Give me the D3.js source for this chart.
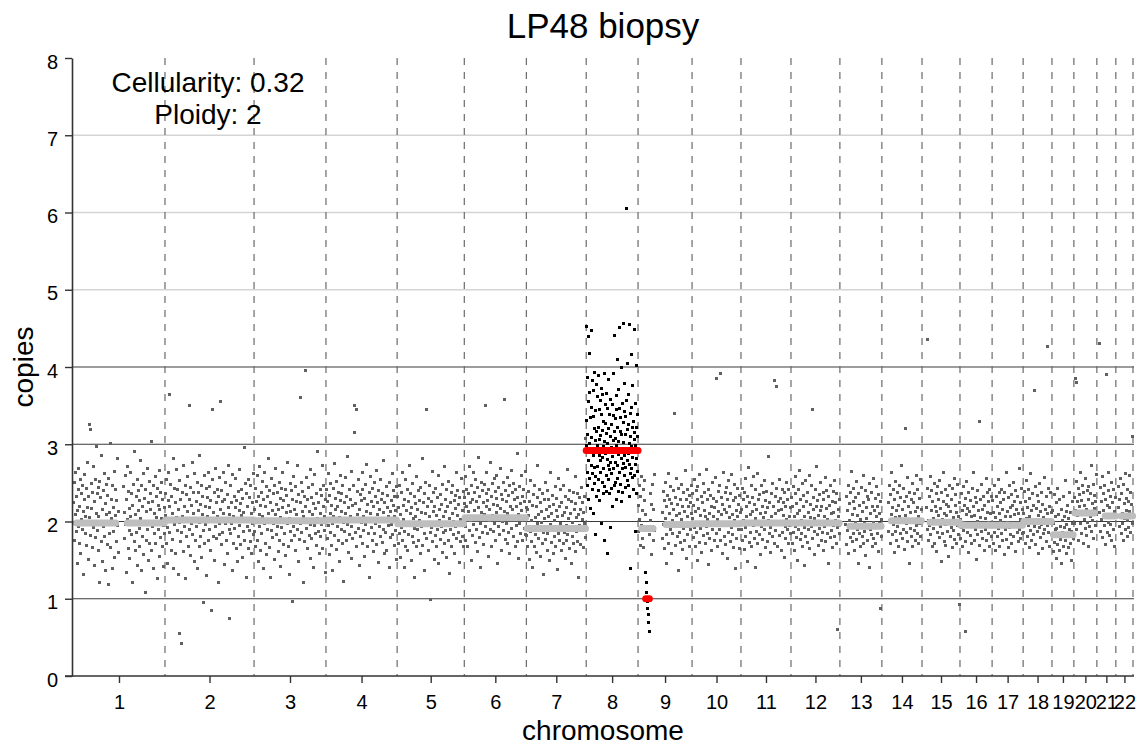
<!DOCTYPE html>
<html><head><meta charset="utf-8">
<script src="https://cdn.jsdelivr.net/npm/d3@7"></script>
<style>
body{margin:0;background:#fff}
text{font-family:"Liberation Sans",Arial,Helvetica,sans-serif;fill:#000}
</style>
</head><body>
<svg id="chart" width="1142" height="747"></svg>
<script>
// ---------------- data ----------------
const chartTitle = "LP48 biopsy";
const cellularity = 0.32;
const ploidy = 2;
const chromosomes = ["1","2","3","4","5","6","7","8","9","10","11","12","13","14","15","16","17","18","19","20","21","22"];
// chromosome extents (Mb)
const chromLengthsMb = [252,244,197,195,184,170,164,142,148,134,137,134,115,110,104,88,85,79,60,63,52,47];
const yTicks = [0,1,2,3,4,5,6,7,8];
const darkRefLines = [1,2,3,4];
const lightRefLines = [5,6,7];

// copy number x100 of evenly spaced bins along each chromosome; "-n" = n bins without data
const binCopies = [
`224 198 251 176 209 263 187 232 145 214 241 193 268 171 220 254 158 236 202 189
247 213 132 228 261 184 207 243 169 218 276 196 151 233 325 205 319 182 249 217
166 238 192 271 143 226 255 179 211 297 188 236 162 244 207 121 252 199 231 174
286 215 148 240 193 262 181 223 137 209 248 170 234 197 119 256 185 212 301 166
229 204 246 139 218 187 265 153 241 208 174 227 195 282 160 213 -10
245 178 212 259 196 134 228 203 271 165 239 188 217 152 264 207 183 236 121 221
198 248 174 290 209 162 233 186 255 143 214 240 191 227 168 279 204 137 246 181
219 262 157 230 197 108 241 176 213 268 189 224 149 252 200 171 236 215 303 163
226 193 247 139 210 184 258 172 232 205 126 243 190 221 266 155 215 238 179 204
251 167 229 195 142 218 185`,
`208 236 171 254 192 145 227 263 186 219 365 201 248 163 232 177 210 281 139 243
196 225 158 267 205 188 241 132 216 199 55 253 174 229 186 42 238 206 161 272
194 219 247 126 235 180 213 258 167 203 229 190 350 244 156 221 197 276 183 210
238 148 262 201 175 226 193 251 139 214 237 168 285 199 222 181 246 154 209 233
95 188 259 171 220 196 243 130 231 207 175 264 190 218 245 162 227 85 201 254
345 180 212 237 149 269 193 224 178 206 241 121 232 197 183 257 355 215 170 240
226 186 211 263 144 229 198 251 176 202 235 159 218 273 190 209 75 246 184 225
198 137 261 206 172 233 191 218 256 165 227 202 148 239 181 214 267 195 223 170
242 208 153 230 187 212 296 176 249 201 128 236 194 219 165 255 203
188 231 174 246 210 159 224 197 262 183`,
`215 187 243 168 226 201 259 176 232 148 209 271 194 221 163 237 185 252 206 139
228 197 264 172 219 245 157 233 190 211 282 166 240 203 127 225 188 256 214 179
236 198 151 247 209 268 183 222 194 237 161 215 250 176 230 205 142 243 192 218
263 170 227 199 185 241 156 212 234 197 276 168 221 204 131 249 187 213 240 175
229 96 258 193 216 182 245 163 226 209 190 272 148 235 201 177 224 360 198 251
186 213 239 121 207 232 174 395 220 191 257 165 228 203 244 182 213 152 267 196
231 178 209 248 140 223 195 261 184 217 236 169 204 290 187
225 199 158 242 211 180 234 196 273 165 220 247 188 206 134 229`,
`203 241 178 226 195 262 157 234 211 186 249 169 221 198 137 243 207 275 182 215
230 164 252 193 219 176 238 205 148 227 260 189 213 236 171 246 199 122 224 187
257 210 175 233 196 284 160 218 242 183 206 229 152 265 194 221 178 247 201 315
350 186 223 345 168 239 209 191 254 143 216 235 180 227 199 263 172 241 188 207
230 155 248 196 213 274 167 222 204 185 237 128 211 258 192 226 176 243 200 161
219 251 184 232 198 170 266 209 225 147 240 193 216 181 255 204 229 173 236 190
212 279 158 224 201 186 245 163 218 234 195 207 140 250 213 179 227 196 262 183
221 240 169 206 232 188 214 151 245`,
`196 232 171 218 247 185 209 153 238 192 264 176 221 203 141 229 187 255 168 214
199 241 162 226 183 272 195 210 236 149 218 180 249 204 173 232 191 128 223 206
258 167 215 189 240 176 201 227 158 244 193 212 281 169 224 198 137 236 184 210
251 345 178 219 195 230 163 247 207 186 99 226 192 265 174 213 238 151 220 199
182 243 167 208 231 190 259 145 216 201 177 235 194 222 160 248 186 206 271 172
213 229 188 154 241 197 219 176 252 204 133 225 190 237 168 211 246 183 200 227
159 234 193 217 264 178 208 240 186 222 147 231 203 174 256 196 214 180 239 168
223`,
`231 194 258 176 219 242 205 167 236 213 271 188 224 201 149 247 182 229 263 196
214 238 173 255 207 190 226 161 244 218 283 179 233 198 141 251 212 186 240 225
170 209 248 350 193 236 219 264 184 227 155 242 201 215 277 190 233 168 249 208
222 187 256 197 239 175 212 260 230 146 221 194 244 206 183 268 217 235 163 229
200 251 188 358 213 240 177 226 198 257 172 211 234 186 246 159 220 203 266 191
237 215 180 249 206 228 167 242 195 219 288 174 231 209 152 245 198 223 185 260
214 233 176 207 242 191 226 265 183 218`,
`182 215 167 239 194 208 151 226 187 253 174 201 221 140 235 192 168 247 205 183
219 160 231 197 272 178 209 188 242 155 224 199 213 171 236 186 131 228 204 177
251 193 216 162 240 185 207 229 149 219 196 264 173 211 189 234 158 222 201 180
245 167 214 193 230 138 207 184 256 176 219 198 241 163 225 190 208 172 247 186
212 152 233 195 176 218 267 183 204 229 165 240 191 210 146 226 199 180 238 171
215 192 258 161 223 205 187 236 174 209 128 231 195 216 170 244 188 203 225 166
212 197 233 179 308 190`,
`452 298 331 264 387 246 312 440 279 355 228 301 367 256 418 289 334 217 447 273
309 348 241 382 295 262 336 211 370 285 321 249 393 270 305 183 344 258 289 316
377 233 298 362 271 322 255 389 240 306 286 345 227 357 279 311 264 338 198 294
372 251 318 283 364 236 297 330 269 391 245 303 176 327 288 352 260 314 239 366
280 301 158 346 273 321 254 384 292 236 339 267 310 192 358 277 296 243 325 262
351 284 219 337 305 268 392 247 316 289 441 276 333 251 308 363 229 298 345 272
410 256 322 287 371 239 304 346 263 451 290 317 248 335 281 399 226 312 268 353
294 237 328 275 456 302 259 342 286 378 244 313 270 336 605 291 357 253 319 279
404 247 326 288 364 233 301 455 274 340 262 310 139 297 348 416 268 322 283 257
376 295 241 330 448 306 259 315 187 353 274 298 402 236 322 281 265 339 291 310`,
`221 187 246 203 169 232 195 258 178 214 241 166 227 190 253 209
134 121 108 97 88 79 69 58
183 236 201 157 222 248 194 175 216 261 188 -15
212 178 239 196 165 227 204 251 183 219 146 234 197 262 171 210 228 189 245 158
223 201 184 240 216 340 193 231 169 208 256 181 222 197 137 243 210 186 229 173
248 202 164 220 191 237 176 213 266 195 228 152 241 207 183 219 199 234 167 225
189 211 247`,
`204 236 179 221 192 254 167 213 240 186 228 150 245 199 217 173 261 208 191 232
160 225 197 249 182 214 238 171 206 193 267 185 229 203 144 242 211 178 234 196
220 163 251 189 207 230 175 218 199 257 385 184 226 202 168 239 213 190 247 176
392 209 231 158 222 195 263 181 215 237 170 244 198 212 152 228 186 253 205 219
174 236 192 261 183 209 227 166 248 201 139 231 195 214 178 243 206 189 222 165
234 197 212`,
`215 189 243 176 228 201 164 237 192 256 181 219 207 148 233 196 270 173 224 209
186 247 168 213 231 195 258 178 222 204 141 241 187 216 262 171 229 198 183 235
210 157 246 193 220 177 238 205 189 253 166 227 212 196 239 174 218 201 284 185
224 192 160 236 207 181 249 219 196 172 382 232 188 211 375 243 199 167 226 214
182 255 197 230 163 215 241 186 208 224 153 237 194 219 178 250 203 189 229 171
242 206 195 218 184`,
`198 231 172 219 245 186 207 163 236 194 258 179 223 211 150 241 189 214 266 177
228 201 185 249 168 219 234 192 207 143 253 181 226 197 173 238 212 189 260 165
222 205 193 246 345 178 215 231 187 204 157 242 196 219 271 183 227 208 169 235
191 214 250 176 220 199 186 238 162 229 206 193 257 174 217 240 185 203 146 233
198 221 179 247 210 188 226 166 239 195 212 180 253 201 224 171 236 192 60 215
207 184 229`,
`-12 196 232 170 214 188 247 159 223 201 179 238 192 265 174 209 226 184 243 163 217
199 231 177 252 190 208 146 236 185 221 203 168 244 194 213 180 259 172 225 197
187 240 156 218 204 233 176 196 228 141 249 189 211 183 237 167 220 199 256 178
214 192 230 171 206 245 185 219 161 235 198 210 88 226 181 203`,
`-13 224 187 246 201 172 235 209 263 183 218 196 241 160 229 205 187 252 176 214 238
193 221 168 247 206 184 231 199 272 178 215 190 243 164 226 208 320 186 233 197
257 174 219 203 145 238 191 212 229 181 249 167 224 200 188 236 213 176 260 195
218 184 241 206 171 230 197 254 180 215 202`,
`-9 218 189 435 243 201 176 232 195 258 183 214 240 167 226 204 191 249 172 220 197
236 161 213 245 186 208 229 179 253 194 217 148 238 202 185 226 263 174 211 196
241 169 222 208 187 234 155 219 200 247 181 213 192 229 166 243 205 188 256 177
221 199 235 171 212 195 248 183 206 92 224`,
`203 178 236 192 214 167 245 188 221 199 58 230 174 209 252 186 217 160 238 197
213 182 227 206 171 243 193 219 264 176 208 231 189 151 225 200 183 240 195 214
330 169 229 205 187 248 178 216 197 233 162 221 204 190 256 175 212 237 184 199
226 168 241 193 210 180 232`,
`194 227 171 212 246 186 205 163 233 198 219 180 254 191 210 237 168 224 201 185
242 175 216 196 229 157 238 207 189 263 177 213 199 231 166 247 192 218 183 206
235 172 221 194 250 180 209 226 161 240 197 215 186 232 174 211 268 189 224 202
178 243 193 216 185`,
`211 186 239 197 172 226 204 253 181 218 195 241 166 230 207 188 262 176 214 199
236 183 221 370 193 245 170 217 202 187 234 159 226 208 192 249 179 213 196 238
165 222 205 184 257 190 216 201 232 174 211 195 427 243 186 220 168 237 199 212
183`,
`182 214 161 198 235 173 206 189 152 224 191 170 243 185 209 163 228 194 177 216
145 201 186 232 168 207 192 253 175 213 159 196 221 181 204 166 238 190 172 212
187 149 226 198 178 210`,
`231 197 385 214 380 252 189 226 208 243 176 235 219 198 264 184 227 210 247 172
238 203 221 191 256 215 182 240 199 229 167 245 212 193 236 206 273 187 223 201
248 178 217 234 195 226 209 261`,
`-5 430 212 244 187 226 203 258 179 236 214 195 247 170 229 208 390 221 186 240 199
263 182 218 233 196 250 175 224 207 189 242 213 168 231 205`,
`-5 218 245 193 229 207 256 184 236 211 197 248 175 223 204 262 189 230 214 180 241
201 226 192 259 213 186 237 205 222 310 198`
];

// segments: chromosome index, start / end (Mb within chromosome), copies
const segChrom  = [0,0,1,2,3,4,5,6,7,8,8,8,9,10,11,12,13,14,15,16,17,18,19,20,21];
const segStart  = [10,149,2,2,2,2,2,2,0,10,21,77,2,2,2,28,26,22,2,2,2,4,3,23,15];
const segEnd    = [117,250,242,195,193,182,168,162,142,41,31,146,132,135,132,113,108,102,86,83,77,58,56,51,46];
const segCopies = [1.98,1.98,2.02,2.01,2.02,1.97,2.05,1.91,2.92,1.91,1.00,1.96,1.97,1.98,1.98,1.94,2.01,1.99,1.95,1.95,2.00,1.83,2.11,2.07,2.07];

// ---------------- layout ----------------
const svg = d3.select("#chart");
const pL = 72, pR = 1134, pT = 58, pB = 676;
const chromStart = d3.cumsum([0].concat(chromLengthsMb)).slice(0, chromLengthsMb.length);
const genomeLen = d3.sum(chromLengthsMb);
const x = d3.scaleLinear().domain([0, genomeLen]).range([73, 1133]);
const y = d3.scaleLinear().domain([0, 8]).range([pB, pT]);
const isAltered = v => Math.abs(v - ploidy) >= 0.5;

// build points
const points = [];
binCopies.forEach((s, ci) => {
  const toks = s.trim().split(/\s+/).map(Number);
  let n = 0; toks.forEach(t => n += t < 0 ? -t : 1);
  let i = 0;
  toks.forEach(t => {
    if (t < 0) { i += -t; return; }
    const pos = (i + 0.5) / n * chromLengthsMb[ci];
    points.push({chrom: ci, pos, cn: t / 100});
    i++;
  });
});
const segs = segChrom.map((c, k) => ({chrom: c, s: segStart[k], e: segEnd[k], cn: segCopies[k]}));
points.forEach(p => {
  p.alt = segs.some(sg => sg.chrom === p.chrom && isAltered(sg.cn) && p.pos >= sg.s && p.pos <= sg.e);
});

// reference lines
svg.append("g").selectAll("line").data(lightRefLines).join("line")
  .attr("x1", pL).attr("x2", pR).attr("y1", d => y(d)).attr("y2", d => y(d))
  .attr("stroke", "#d4d4d4").attr("stroke-width", 1.4);
svg.append("g").selectAll("line").data(darkRefLines).join("line")
  .attr("x1", pL).attr("x2", pR).attr("y1", d => y(d)).attr("y2", d => y(d))
  .attr("stroke", "#3a3a3a").attr("stroke-width", 1.2);

// chromosome boundaries
svg.append("g").selectAll("line").data(chromLengthsMb).join("line")
  .attr("x1", (d, i) => x(chromStart[i] + d)).attr("x2", (d, i) => x(chromStart[i] + d))
  .attr("y1", pT).attr("y2", pB)
  .attr("stroke", "#6a6a6a").attr("stroke-width", 1.2).attr("stroke-dasharray", "7,7");

// points
const ps = 3;
svg.append("g").attr("shape-rendering", "crispEdges").selectAll("rect").data(points).join("rect")
  .attr("x", d => Math.round(x(chromStart[d.chrom] + d.pos) - ps / 2))
  .attr("y", d => Math.round(y(d.cn) - ps / 2))
  .attr("width", ps).attr("height", ps)
  .attr("fill", d => d.alt ? "#000" : "#606060");

// segments
const segOrder = segs.slice().sort((a, b) => isAltered(a.cn) - isAltered(b.cn));
svg.append("g").selectAll("line").data(segOrder).join("line")
  .attr("x1", d => x(chromStart[d.chrom] + d.s)).attr("x2", d => x(chromStart[d.chrom] + d.e))
  .attr("y1", d => y(d.cn)).attr("y2", d => y(d.cn))
  .attr("stroke", d => isAltered(d.cn) ? "#ff0000" : "#bebebe")
  .attr("stroke-width", 7).attr("stroke-linecap", "round");

// axes
const yAxis = svg.append("g").attr("transform", `translate(${pL},0)`)
  .call(d3.axisLeft(y).tickValues(yTicks).tickSize(7).tickSizeOuter(0).tickPadding(7));
yAxis.select(".domain").attr("stroke", "#333").attr("stroke-width", 1.6);
yAxis.selectAll(".tick line").attr("stroke", "#333").attr("stroke-width", 1.4);
yAxis.selectAll(".tick text").attr("font-size", 20).attr("dy", "0.5em")
  .attr("font-family", "'Liberation Sans', Arial, sans-serif").attr("fill", "#000");

const mids = chromLengthsMb.map((d, i) => chromStart[i] + d / 2);
const xAxis = svg.append("g").attr("transform", `translate(0,${pB})`)
  .call(d3.axisBottom(x).tickValues(mids).tickFormat((d, i) => chromosomes[i]).tickSize(7).tickSizeOuter(0).tickPadding(12));
xAxis.select(".domain").remove();
xAxis.selectAll(".tick line").attr("stroke", "#333").attr("stroke-width", 1.4);
xAxis.selectAll(".tick text").attr("font-size", 20)
  .attr("font-family", "'Liberation Sans', Arial, sans-serif").attr("fill", "#000");
svg.append("line").attr("x1", pL - 7).attr("x2", pR).attr("y1", pB).attr("y2", pB)
  .attr("stroke", "#333").attr("stroke-width", 1.6);

// texts
svg.append("text").attr("x", 603).attr("y", 38).attr("text-anchor", "middle")
  .attr("font-size", 35).text(chartTitle);
svg.append("text").attr("x", 603).attr("y", 740).attr("text-anchor", "middle")
  .attr("font-size", 28).text("chromosome");
svg.append("text").attr("transform", "translate(33,367) rotate(-90)").attr("text-anchor", "middle")
  .attr("font-size", 28).text("copies");
svg.append("text").attr("x", 208).attr("y", 92).attr("text-anchor", "middle")
  .attr("font-size", 28).text("Cellularity: " + cellularity);
svg.append("text").attr("x", 208).attr("y", 124).attr("text-anchor", "middle")
  .attr("font-size", 28).text("Ploidy: " + ploidy);
</script>
</body></html>
